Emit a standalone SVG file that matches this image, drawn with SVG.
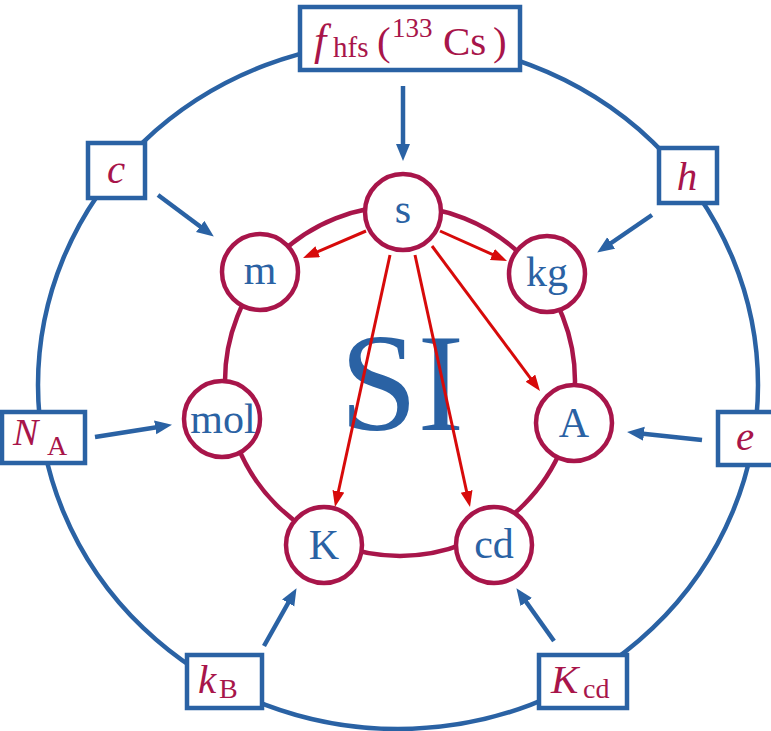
<svg xmlns="http://www.w3.org/2000/svg" width="771" height="731" viewBox="0 0 771 731">
<style>
.blue{fill:none;stroke:#2a62a4;stroke-width:4.5}
.box{fill:#fff;stroke:#2a62a4;stroke-width:4.5}
.node{fill:#fff;stroke:#a8154a;stroke-width:4.5}
.ring{fill:none;stroke:#a8154a;stroke-width:4.5}
.ba{fill:none;stroke:#2a62a4;stroke-width:4.5;marker-end:url(#hb)}
.ra{fill:none;stroke:#d70a0a;stroke-width:3;marker-end:url(#hr)}
.lab{font-family:"Liberation Serif","DejaVu Serif",serif;fill:#a8154a;font-size:41px}
.it{font-style:italic}
.nl{font-family:"Liberation Serif","DejaVu Serif",serif;fill:#2a62a4;font-size:42px;text-anchor:middle}
</style>
<defs>
<marker id="hb" markerUnits="userSpaceOnUse" markerWidth="18" markerHeight="16" refX="8" refY="7" orient="auto" viewBox="0 0 18 16"><path d="M0,0 L17,7 L0,14 z" fill="#2a62a4"/></marker>
<marker id="hr" markerUnits="userSpaceOnUse" markerWidth="18" markerHeight="14" refX="8" refY="6" orient="auto" viewBox="0 0 18 14"><path d="M0,0 L16,6 L0,12 z" fill="#d70a0a"/></marker>
</defs>
<rect width="771" height="731" fill="#fff"/>
<ellipse class="blue" cx="398" cy="385" rx="360" ry="344"/>
<circle class="ring" cx="400" cy="381" r="175"/>
<text x="402" y="430" font-family="Liberation Serif,DejaVu Serif,serif" font-size="140" fill="#2a62a4" text-anchor="middle">SI</text>

<g id="box-fhfs"><rect class="box" x="300" y="7" width="220" height="63"/>
<text class="lab" y="55"><tspan class="it" x="314" font-size="44">f</tspan><tspan x="333" y="57" font-size="29">hfs</tspan><tspan x="377" y="55">(</tspan><tspan x="392" y="37" font-size="27">133</tspan><tspan x="443" y="55">Cs</tspan><tspan x="493">)</tspan></text></g>
<g id="box-c"><rect class="box" x="88" y="143" width="57" height="55"/><text class="lab it" x="116" y="183" text-anchor="middle">c</text></g>
<g id="box-h"><rect class="box" x="659" y="148" width="58" height="55"/><text class="lab it" x="687" y="190" text-anchor="middle">h</text></g>
<g id="box-NA"><rect class="box" x="2" y="412" width="83" height="51"/><text class="lab" y="445"><tspan class="it" x="13" font-size="38">N</tspan><tspan x="47" y="455" font-size="28">A</tspan></text></g>
<g id="box-e"><rect class="box" x="718" y="412" width="60" height="53"/><text class="lab it" x="745" y="450" text-anchor="middle">e</text></g>
<g id="box-kB"><rect class="box" x="187" y="655" width="75" height="53"/><text class="lab" y="693"><tspan class="it" x="198">k</tspan><tspan x="219" y="698" font-size="28">B</tspan></text></g>
<g id="box-Kcd"><rect class="box" x="539" y="655" width="88" height="53"/><text class="lab" y="693"><tspan class="it" x="551">K</tspan><tspan x="583" y="698" font-size="28">cd</tspan></text></g>

<g id="node-s"><circle class="node" cx="403" cy="212" r="38"/><text class="nl" x="403" y="223">s</text></g>
<g id="node-m"><circle class="node" cx="260" cy="272" r="38"/><text class="nl" x="260" y="284">m</text></g>
<g id="node-kg"><circle class="node" cx="547" cy="274" r="38"/><text class="nl" x="547" y="286">kg</text></g>
<g id="node-mol"><circle class="node" cx="222" cy="419" r="38"/><text class="nl" x="223" y="433">mol</text></g>
<g id="node-A"><circle class="node" cx="574" cy="423" r="38"/><text class="nl" x="574" y="437">A</text></g>
<g id="node-K"><circle class="node" cx="324" cy="545" r="38"/><text class="nl" x="324" y="559">K</text></g>
<g id="node-cd"><circle class="node" cx="494" cy="545" r="38"/><text class="nl" x="494" y="558">cd</text></g>

<g id="connectors">
<line class="ba" x1="403" y1="86" x2="403" y2="152"/>
<line class="ba" x1="158" y1="195" x2="206.6" y2="231.2"/>
<line class="ba" x1="652" y1="215" x2="604.6" y2="247.5"/>
<line class="ba" x1="95" y1="437" x2="163.1" y2="426.2"/>
<line class="ba" x1="702" y1="440" x2="636" y2="432.9"/>
<line class="ba" x1="264" y1="646" x2="292.1" y2="596"/>
<line class="ba" x1="554" y1="641" x2="521.6" y2="595.5"/>
<line class="ra" x1="366" y1="231" x2="310.4" y2="254.8"/>
<line class="ra" x1="440" y1="231" x2="499.7" y2="257.7"/>
<line class="ra" x1="390" y1="255" x2="336.7" y2="499.2"/>
<line class="ra" x1="415" y1="255" x2="468.3" y2="499.2"/>
<line class="ra" x1="432" y1="246" x2="535.2" y2="384.6"/>
</g>
</svg>
